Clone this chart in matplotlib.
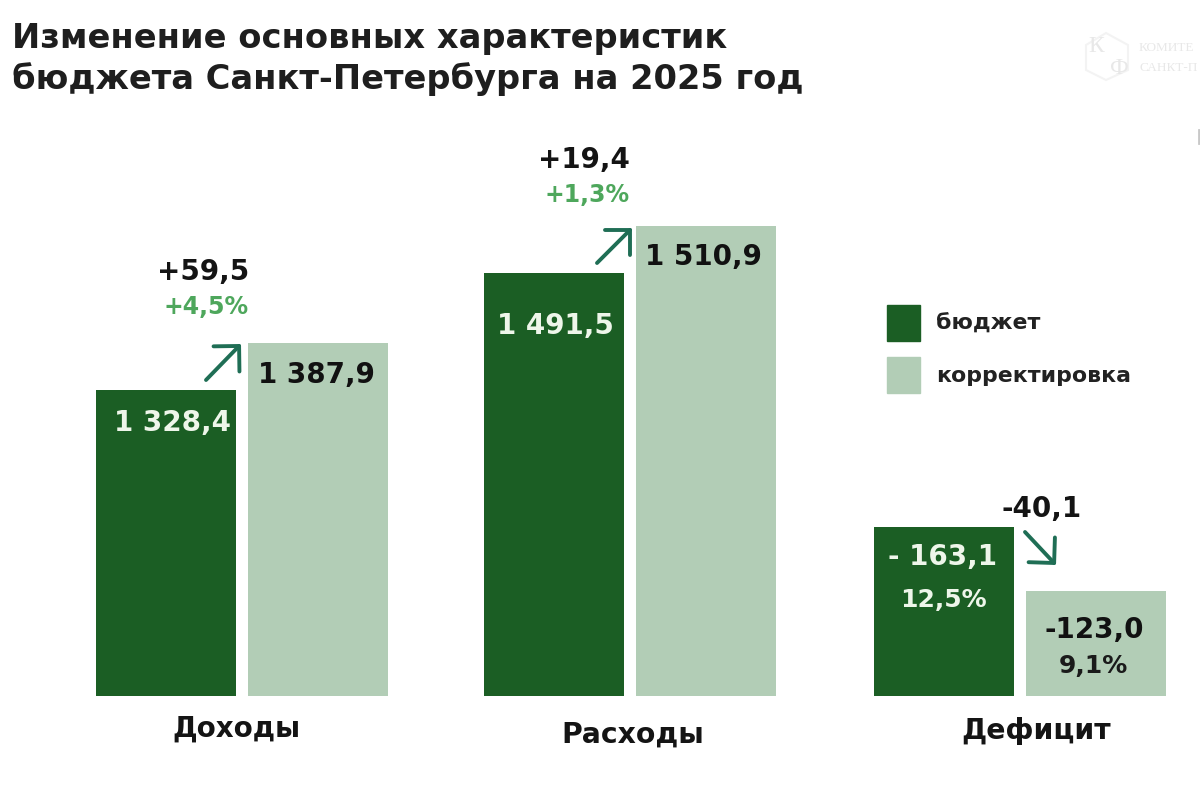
import matplotlib
matplotlib.use("Agg")
import matplotlib.pyplot as plt
from matplotlib.patches import Polygon, Patch

plt.rcParams['font.family'] = ['DejaVu Sans']

categories = ["Доходы", "Расходы", "Дефицит"]
series_names = ["бюджет", "корректировка"]
# values printed on the chart
budget_labels = ["1 328,4", "1 491,5", "- 163,1"]
revised_labels = ["1 387,9", "1 510,9", "-123,0"]
# the drawn bars are not to scale with the printed values; apparent heights
budget_heights = [306, 423, 169]
revised_heights = [353, 470, 105]
delta_labels = ["+59,5", "+19,4", "-40,1"]
pct_labels = ["+4,5%", "+1,3%"]
deficit_pct = ["12,5%", "9,1%"]

DARK = "#1b5e24"
LIGHT = "#b2cdb6"
ARROW = "#1f6e55"
GREEN = "#4ea75c"
TXT = "#141414"

fig = plt.figure(figsize=(12, 7.97), dpi=100, facecolor="white")
ax = fig.add_axes([0, 0, 1, 1])
ax.set_xlim(0, 1200)
ax.set_ylim(-101, 696)
ax.axis("off")

def Y(py):
    return 696 - py

centers = [241.5, 630, 1019.5]
w = 140
off = 76
ax.bar([c - off for c in centers], budget_heights, width=w, color=DARK, label=series_names[0])
ax.bar([c + off for c in centers], revised_heights, width=w, color=LIGHT, label=series_names[1])

def T(x, py, s, size, color=TXT, ha="center"):
    ax.text(x, Y(py), s, fontsize=size, fontweight="bold", color=color, ha=ha, va="center")

# title
T(12, 38, "Изменение основных характеристик", 24.2, "#1e1e1e", "left")
T(12, 79, "бюджета Санкт-Петербурга на 2025 год", 24.2, "#1e1e1e", "left")

# bar value labels
T(172, 423, budget_labels[0], 20, "#eef6ea")
T(316, 375, revised_labels[0], 20, "#111111")
T(555, 326, budget_labels[1], 20, "#eef6ea")
T(703, 257, revised_labels[1], 20, "#111111")
T(943, 557, budget_labels[2], 20, "#eef6ea")
T(943, 600, deficit_pct[0], 18, "#eef6ea")
T(1094, 630, revised_labels[2], 20, "#111111")
T(1093, 666, deficit_pct[1], 18, "#1a1a1a")

# deltas
T(203, 272, delta_labels[0], 20)
T(206, 307, pct_labels[0], 17, GREEN)
T(584, 160, delta_labels[1], 20)
T(587, 195, pct_labels[1], 17, GREEN)
T(1042, 509, delta_labels[2], 20)

# arrows
for start, end in [((206, 380), (241, 344)), ((597, 263), (632, 228)), ((1025, 532), (1056, 565))]:
    ax.annotate("", xy=(end[0], Y(end[1])), xytext=(start[0], Y(start[1])),
                arrowprops=dict(arrowstyle="->,head_length=1.3,head_width=1.3", color=ARROW, lw=2.8,
                                shrinkA=0, shrinkB=0))

# category labels
T(236, 729, categories[0], 20)
T(633, 735, categories[1], 20.3)
T(1036, 731, categories[2], 20.3)

# legend
leg = ax.legend(handles=[Patch(color=DARK, label=series_names[0]), Patch(color=LIGHT, label=series_names[1])],
                loc="upper left", bbox_to_anchor=(887 / 1200, 1 - 305 / 797), frameon=False,
                prop=dict(family="DejaVu Sans", weight="bold", size=15.8), handlelength=1.5, handleheight=2.14,
                handletextpad=0.73, labelspacing=0.73, borderpad=0, borderaxespad=0)
for t in leg.get_texts():
    t.set_color("#222222")

# faint watermark logo
hexagon = [(1086, 45), (1106, 33), (1128, 45), (1128, 70), (1106, 80), (1086, 70)]
ax.add_patch(Polygon([(x, Y(y)) for x, y in hexagon], closed=True, fill=False, ec="#f3f3f3", lw=1.5))
ax.text(1096, Y(46), "К", fontsize=17, family="Liberation Serif", color="#e8e8e8", ha="center", va="center")
ax.text(1119, Y(68), "Ф", fontsize=17, family="Liberation Serif", color="#e8e8e8", ha="center", va="center")
ax.text(1139, Y(48), "КОМИТЕ", fontsize=9.5, family="Liberation Serif", color="#e8e8e8", ha="left", va="center")
ax.text(1139, Y(68), "САНКТ-П", fontsize=9.5, family="Liberation Serif", color="#e8e8e8", ha="left", va="center")
ax.plot([1199, 1199], [Y(130), Y(143)], color="#c8c8c8", lw=2)

fig.savefig("out.png", dpi=100, facecolor="white")
